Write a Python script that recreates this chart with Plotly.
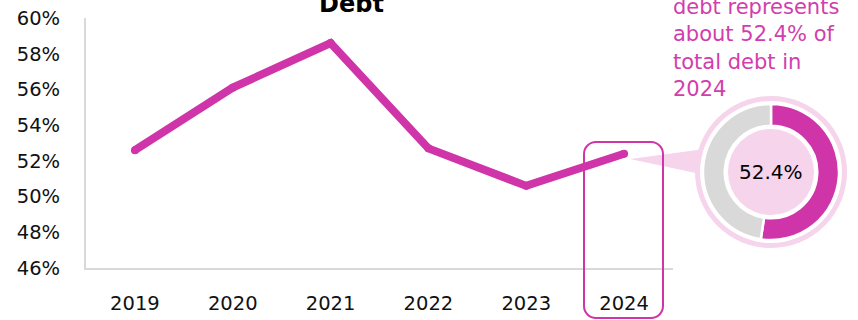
import plotly.graph_objects as go

# Share of debt over time
years = ["2019", "2020", "2021", "2022", "2023", "2024"]
share = [52.6, 56.1, 58.6, 52.7, 50.6, 52.4]
y_ticks = [46, 48, 50, 52, 54, 56, 58, 60]

# Donut for the latest year
latest_share = share[-1]
donut_values = [latest_share, 100 - latest_share]

MAGENTA = "#CF35A9"
PALE_PINK = "#F5D4EC"
GREY = "#D9D9D9"
W, H = 858, 320
FONT = "DejaVu Sans"


def px(x):
    return x / W


def py(y):
    return 1 - y / H


def circle(cx, cy, r, fill, layer="below"):
    return dict(type="circle", xref="paper", yref="paper",
                x0=px(cx - r), x1=px(cx + r), y0=py(cy + r), y1=py(cy - r),
                fillcolor=fill, line=dict(width=0), layer=layer)


def rounded_rect(x0, y0, x1, y1, r):
    k = 0.4477 * r
    pts = [
        f"M {px(x0 + r)},{py(y0)}",
        f"L {px(x1 - r)},{py(y0)}",
        f"C {px(x1 - k)},{py(y0)} {px(x1)},{py(y0 + k)} {px(x1)},{py(y0 + r)}",
        f"L {px(x1)},{py(y1 - r)}",
        f"C {px(x1)},{py(y1 - k)} {px(x1 - k)},{py(y1)} {px(x1 - r)},{py(y1)}",
        f"L {px(x0 + r)},{py(y1)}",
        f"C {px(x0 + k)},{py(y1)} {px(x0)},{py(y1 - k)} {px(x0)},{py(y1 - r)}",
        f"L {px(x0)},{py(y0 + r)}",
        f"C {px(x0)},{py(y0 + k)} {px(x0 + k)},{py(y0)} {px(x0 + r)},{py(y0)}",
        "Z",
    ]
    return " ".join(pts)


fig = go.Figure()

fig.add_trace(go.Scatter(
    x=years, y=share, mode="lines+markers",
    line=dict(color=MAGENTA, width=8),
    marker=dict(color=MAGENTA, size=8),
    hoverinfo="skip", showlegend=False,
))

CX, CY = 771, 172
fig.add_trace(go.Pie(
    values=donut_values, sort=False, direction="clockwise", rotation=0,
    hole=0.68, textinfo="none", hoverinfo="skip", showlegend=False,
    marker=dict(colors=[MAGENTA, GREY], line=dict(color="white", width=2.5)),
    domain=dict(x=[px(CX - 68), px(CX + 68)], y=[py(CY + 68), py(CY - 68)]),
))

shapes = [
    # callout wedge from the last point to the donut
    dict(type="path", xref="paper", yref="paper",
         path=f"M {px(630)},{py(159)} L {px(705)},{py(149)} L {px(705)},{py(175)} Z",
         fillcolor=PALE_PINK, line=dict(width=0), layer="below"),
    circle(CX, CY, 76, PALE_PINK),
    circle(CX, CY, 71, "white"),
    circle(CX, CY, 43, PALE_PINK, layer="above"),
    # highlight frame around the latest year
    dict(type="path", xref="paper", yref="paper",
         path=rounded_rect(584, 142, 663, 318, 12),
         line=dict(color=MAGENTA, width=2), fillcolor="rgba(0,0,0,0)", layer="above"),
]

annotations = [
    dict(text="<b>Debt</b>", x=px(351), y=py(20), xref="paper", yref="paper",
         xanchor="center", yanchor="bottom", showarrow=False,
         font=dict(family=FONT, size=24, color="black")),
    dict(text="debt represents<br>about 52.4% of<br>total debt in<br>2024",
         x=px(671), y=py(-7), xref="paper", yref="paper",
         xanchor="left", yanchor="top", align="left", showarrow=False,
         font=dict(family=FONT, size=21, color="#D23DAD")),
    dict(text=f"{latest_share:.1f}%", x=px(CX), y=py(CY), xref="paper", yref="paper",
         xanchor="center", yanchor="middle", showarrow=False,
         font=dict(family=FONT, size=20, color="black")),
]

fig.update_layout(
    width=W, height=H,
    margin=dict(l=0, r=0, t=0, b=0, autoexpand=False),
    paper_bgcolor="white", plot_bgcolor="white",
    font=dict(family=FONT, size=19.5, color="#111111"),
    xaxis=dict(domain=[px(86), px(673)], range=[-0.5, 5.5], type="category",
               showgrid=False, zeroline=False, showline=True, linecolor=GREY, linewidth=2,
               ticks="", ticklabelstandoff=17, fixedrange=True, automargin=False),
    yaxis=dict(domain=[py(268), py(18)], range=[46, 60], tickvals=y_ticks,
               ticktext=[f"{v}%" for v in y_ticks],
               showgrid=False, zeroline=False, showline=True, linecolor=GREY, linewidth=2,
               ticks="", ticklabelstandoff=20, fixedrange=True, automargin=False),
    shapes=shapes,
    annotations=annotations,
)

fig.write_html("out.html")
